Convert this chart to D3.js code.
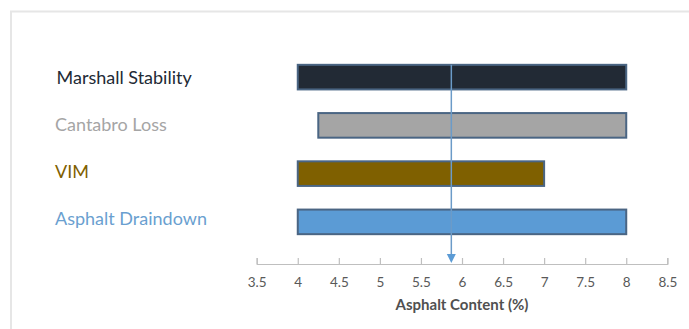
<!DOCTYPE html>
<html>
<head>
<meta charset="utf-8">
<script src="https://cdn.jsdelivr.net/npm/d3@7"></script>
<style>
  html, body { margin: 0; padding: 0; background: #ffffff; }
  svg { display: block; }
</style>
</head>
<body>
<svg id="chart" width="689" height="329"></svg>
<script>
// Acceptable asphalt content range for each mix criterion
const criteria = ["Marshall Stability", "Cantabro Loss", "VIM", "Asphalt Draindown"];
const rangeStart = [4.0, 4.25, 4.0, 4.0];
const rangeEnd = [8.0, 8.0, 7.0, 8.0];
const fillColors = ["#222a35", "#a5a5a5", "#7f6000", "#5b9bd5"];
const labelColors = ["#222a35", "#a5a5a5", "#7f6000", "#6a9fd0"];
const tickValues = [3.5, 4, 4.5, 5, 5.5, 6, 6.5, 7, 7.5, 8, 8.5];
const optimumContent = 5.87;
const axisTitle = "Asphalt Content (%)";

const svg = d3.select("#chart");
const font = "Lato, 'Open Sans', sans-serif";

// Frame
svg.append("path")
  .attr("d", "M11,329 V11.5 H689")
  .attr("fill", "none")
  .attr("stroke", "#e6e6e6")
  .attr("stroke-width", 2);

const x = d3.scaleLinear().domain([3.5, 8.5]).range([256.7, 667.3]);
const y = d3.scaleBand().domain(criteria).range([53, 246])
  .paddingInner(0.49).paddingOuter(0.245);

const rows = criteria.map((c, i) => ({
  name: c, start: rangeStart[i], end: rangeEnd[i],
  fill: fillColors[i], label: labelColors[i]
}));

// Range bars
svg.append("g").selectAll("rect").data(rows).join("rect")
  .attr("x", d => x(d.start))
  .attr("y", d => y(d.name))
  .attr("width", d => x(d.end) - x(d.start))
  .attr("height", y.bandwidth())
  .attr("fill", d => d.fill)
  .attr("stroke", "#4a6583")
  .attr("stroke-width", 2);

// Criterion labels
svg.append("g").selectAll("text").data(rows).join("text")
  .attr("x", (d, i) => i === 0 ? 56.5 : 55)
  .attr("y", (d, i) => y(d.name) + y.bandwidth() / 2 + 6.5 - i)
  .attr("fill", d => d.label)
  .style("font-family", font)
  .style("font-size", "18px")
  .text(d => d.name);

// X axis
const axisY = 264;
const axis = d3.axisTop(x).tickValues(tickValues).tickSize(6).tickFormat(d3.format(""));
const gx = svg.append("g").attr("transform", `translate(0,${axisY})`).call(axis);
gx.select(".domain").attr("stroke", "#bfbfbf").attr("stroke-width", 1.2);
gx.selectAll(".tick line").attr("stroke", "#bfbfbf").attr("stroke-width", 1.2);
gx.selectAll(".tick text")
  .attr("y", 18)
  .attr("dy", "0.35em")
  .attr("fill", "#595959")
  .style("font-family", font)
  .style("font-size", "13.5px");

svg.append("text")
  .attr("x", (x(3.5) + x(8.5)) / 2)
  .attr("y", 305)
  .attr("dy", "0.35em")
  .attr("text-anchor", "middle")
  .attr("fill", "#505050")
  .style("font-family", font)
  .style("font-size", "15px")
  .style("font-weight", "bold")
  .text(axisTitle);

// Optimum asphalt content marker
const xo = x(optimumContent);
svg.append("line")
  .attr("x1", xo).attr("x2", xo)
  .attr("y1", y(criteria[0]))
  .attr("y2", axisY - 8)
  .attr("stroke", "#6b9bc8")
  .attr("stroke-width", 1.5);
svg.append("path")
  .attr("d", `M${xo - 4.5},${axisY - 10} L${xo + 4.5},${axisY - 10} L${xo},${axisY - 1} Z`)
  .attr("fill", "#5b9bd5");
</script>
</body>
</html>
